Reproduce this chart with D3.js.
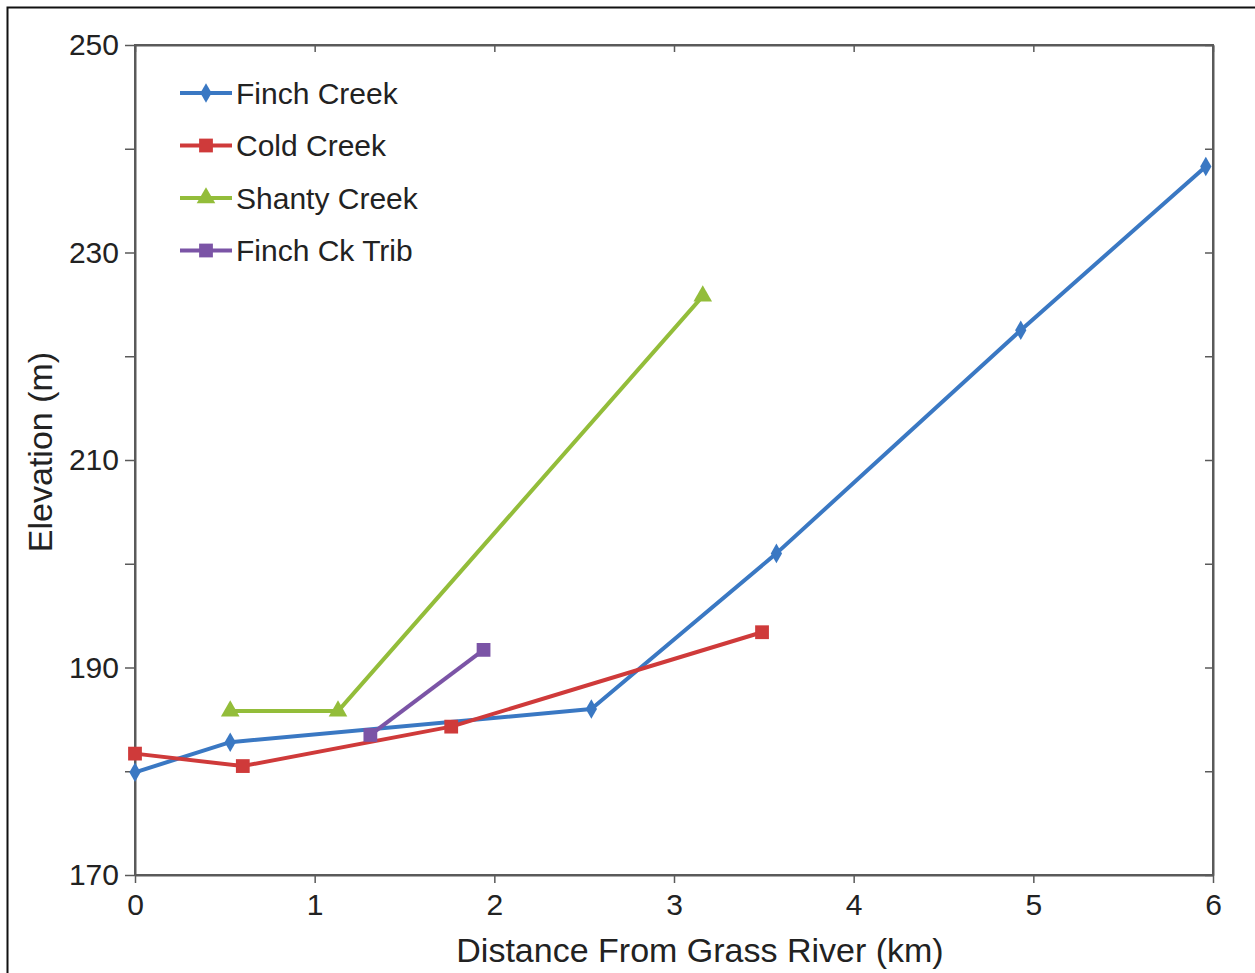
<!DOCTYPE html>
<html>
<head>
<meta charset="utf-8">
<script src="https://cdn.jsdelivr.net/npm/d3@7"></script>
<style>
  body { margin: 0; background: #fff; }
  svg { display: block; font-family: "Liberation Sans", Arial, sans-serif; }
</style>
</head>
<body>
<svg id="chart"></svg>
<script>
// data
var seriesNames = ["Finch Creek", "Cold Creek", "Shanty Creek", "Finch Ck Trib"];
var finchX = [0, 0.53, 2.54, 3.57, 4.93, 5.96];
var finchY = [179.9, 182.8, 186.0, 201.0, 222.5, 238.3];
var coldX = [0, 0.6, 1.76, 3.49];
var coldY = [181.7, 180.5, 184.3, 193.4];
var shantyX = [0.53, 1.13, 3.16];
var shantyY = [185.8, 185.8, 225.8];
var tribX = [1.31, 1.94];
var tribY = [183.5, 191.7];
var xTicks = [0, 1, 2, 3, 4, 5, 6];
var yTicks = [170, 180, 190, 200, 210, 220, 230, 240, 250];
var yLabels = [170, 190, 210, 230, 250];

var W = 1255, H = 973;
var margin = { top: 45, right: 42, bottom: 98, left: 135 },
    width = W - margin.left - margin.right,
    height = H - margin.top - margin.bottom;

var colors = ["#3a78c3", "#cf3a3a", "#93bd3a", "#7b54a6"];
var shapes = [d3.symbolDiamond, d3.symbolSquare, d3.symbolTriangle, d3.symbolSquare];
var sizes = [110, 190, 150, 190];

var series = [
    { name: seriesNames[0], xs: finchX, ys: finchY },
    { name: seriesNames[1], xs: coldX, ys: coldY },
    { name: seriesNames[2], xs: shantyX, ys: shantyY },
    { name: seriesNames[3], xs: tribX, ys: tribY }
].map(function (s) {
    return { name: s.name, values: s.xs.map(function (x, i) { return { x: x, y: s.ys[i] }; }) };
});

var svg = d3.select("#chart").attr("width", W).attr("height", H);

// outer frame, runs off the right and bottom edges
svg.append("rect")
    .attr("x", 7.5).attr("y", 7.5)
    .attr("width", W + 20).attr("height", H + 20)
    .attr("fill", "#fff").attr("stroke", "#111").attr("stroke-width", 2);

var x = d3.scaleLinear().domain([0, 6]).range([0, width]);
var y = d3.scaleLinear().domain([170, 250]).range([height, 0]);

var g = svg.append("g")
    .attr("transform", "translate(" + margin.left + "," + margin.top + ")");

// frame of the plot
g.append("rect")
    .attr("width", width).attr("height", height)
    .attr("fill", "none").attr("stroke", "#5a5a5a").attr("stroke-width", 2);

var fmtY = function (d) { return yLabels.indexOf(d) >= 0 ? d : ""; };

var xAxis = g.append("g")
    .attr("transform", "translate(0," + height + ")")
    .call(d3.axisBottom(x).tickValues(xTicks).tickFormat(d3.format("d"))
        .tickSize(8).tickPadding(8).tickSizeOuter(0));
var yAxis = g.append("g")
    .call(d3.axisLeft(y).tickValues(yTicks).tickFormat(fmtY).tickSize(10).tickPadding(6).tickSizeOuter(0));
var topAxis = g.append("g")
    .call(d3.axisTop(x).tickValues(xTicks).tickSize(-7).tickFormat("").tickSizeOuter(0));
var rightAxis = g.append("g")
    .attr("transform", "translate(" + width + ",0)")
    .call(d3.axisRight(y).tickValues(yTicks).tickSize(-8).tickFormat("").tickSizeOuter(0));

[xAxis, yAxis, topAxis, rightAxis].forEach(function (a) {
    a.select(".domain").attr("stroke", "#5a5a5a").attr("stroke-width", 2);
    a.selectAll(".tick line").attr("stroke", "#5a5a5a").attr("stroke-width", 1.5);
    a.selectAll("text").attr("fill", "#222").style("font-size", "30px")
        .style("font-family", "'Liberation Sans', Arial, sans-serif");
});
xAxis.selectAll("text").attr("dy", "0.8em");

// axis titles
svg.append("text")
    .attr("x", 700).attr("y", 962)
    .attr("text-anchor", "middle").attr("fill", "#222")
    .style("font-size", "34px")
    .text("Distance From Grass River (km)");
svg.append("text")
    .attr("transform", "translate(52,452) rotate(-90)")
    .attr("text-anchor", "middle").attr("fill", "#222")
    .style("font-size", "34px")
    .text("Elevation (m)");

var line = d3.line()
    .x(function (d) { return x(d.x); })
    .y(function (d) { return y(d.y); });

var lines = g.append("g");
series.forEach(function (s, i) {
    lines.append("path")
        .datum(s.values)
        .attr("fill", "none")
        .attr("stroke", colors[i])
        .attr("stroke-width", 4)
        .attr("stroke-linejoin", "round")
        .attr("d", line);
    lines.selectAll(".pt" + i)
        .data(s.values)
        .enter().append("path")
        .attr("class", "pt" + i)
        .attr("transform", function (d) { return "translate(" + x(d.x) + "," + y(d.y) + ")"; })
        .attr("d", d3.symbol().type(shapes[i]).size(sizes[i]))
        .attr("fill", colors[i]);
});

// legend
var legend = svg.append("g").attr("transform", "translate(180,93)");
series.forEach(function (s, i) {
    var row = legend.append("g").attr("transform", "translate(0," + (i * 52.5) + ")");
    row.append("line")
        .attr("x1", 0).attr("x2", 52).attr("y1", 0).attr("y2", 0)
        .attr("stroke", colors[i]).attr("stroke-width", 4);
    row.append("path")
        .attr("transform", "translate(26,0)")
        .attr("d", d3.symbol().type(shapes[i]).size(sizes[i]))
        .attr("fill", colors[i]);
    row.append("text")
        .attr("x", 56).attr("y", 0).attr("dy", "0.35em")
        .attr("fill", "#222").style("font-size", "30px")
        .text(s.name);
});
</script>
</body>
</html>
